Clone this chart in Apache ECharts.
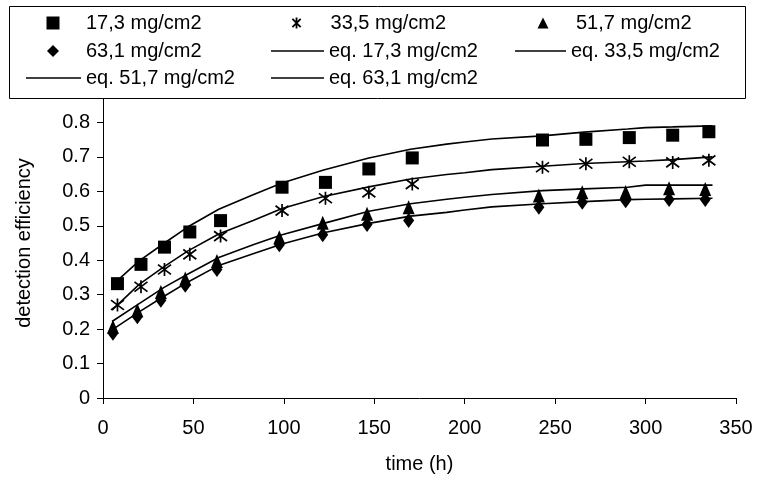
<!DOCTYPE html>
<html>
<head>
<meta charset="utf-8">
<script src="https://cdn.jsdelivr.net/npm/echarts@6/dist/echarts.min.js"></script>
<style>
  html, body { margin: 0; padding: 0; background: #fff; }
  #chart { width: 759px; height: 479px; }
</style>
</head>
<body>
<div id="chart"></div>
<script>
// measured times (h)
const timeA = [8, 21, 34, 48, 65, 99, 123, 147, 171, 243, 267, 291, 315, 335]
const timeB = [5.5, 19, 32, 45.5, 63, 97.5, 121.5, 146, 169, 241, 265, 289, 313, 333]

// measured detection efficiency
const eff173 = [0.332, 0.388, 0.438, 0.482, 0.515, 0.612, 0.626, 0.665, 0.697, 0.749, 0.751, 0.756, 0.763, 0.773]
const eff335 = [0.270, 0.323, 0.373, 0.417, 0.470, 0.544, 0.580, 0.597, 0.621, 0.670, 0.680, 0.686, 0.684, 0.690]
const eff517 = [0.207, 0.255, 0.308, 0.347, 0.398, 0.467, 0.509, 0.535, 0.554, 0.588, 0.597, 0.598, 0.609, 0.607]
const eff631 = [0.188, 0.236, 0.284, 0.327, 0.373, 0.445, 0.474, 0.504, 0.515, 0.554, 0.568, 0.573, 0.576, 0.576]

// fitted curves (eq.)
const fitTime = [5, 20, 34, 47, 64, 83, 99, 122, 147, 170, 190, 200, 215, 243, 266, 290, 300, 315, 337]
const fit173 = [0.327, 0.398, 0.450, 0.497, 0.548, 0.590, 0.624, 0.662, 0.697, 0.722, 0.737, 0.743, 0.752, 0.761, 0.772, 0.781, 0.785, 0.787, 0.790]
const fit335 = [0.255, 0.330, 0.382, 0.427, 0.476, 0.515, 0.550, 0.585, 0.613, 0.636, 0.649, 0.654, 0.663, 0.673, 0.681, 0.686, 0.688, 0.692, 0.700]
const fit517 = [0.222, 0.274, 0.322, 0.360, 0.408, 0.445, 0.474, 0.507, 0.542, 0.564, 0.577, 0.583, 0.591, 0.602, 0.607, 0.612, 0.618, 0.618, 0.618]
const fit631 = [0.198, 0.250, 0.296, 0.337, 0.385, 0.419, 0.447, 0.480, 0.507, 0.528, 0.539, 0.546, 0.555, 0.564, 0.570, 0.576, 0.577, 0.578, 0.580]

const xTicks = [0, 50, 100, 150, 200, 250, 300, 350]

const FONT = '"Liberation Sans", Arial, sans-serif'
const FS = 20
const ASTERISK = 'path://M6,0 L6,12 M1.5,1.5 L10.5,10.5 M1.5,10.5 L10.5,1.5'

const zip = (xs, ys) => xs.map((x, i) => [x, ys[i]])

const chart = echarts.init(document.getElementById('chart'))

// symbol legend: square icon of size s centred on cx, label starting at tx
function symLegend(name, cx, tx, top, s, extra) {
  const left = cx - s / 2
  return Object.assign({
    data: [name], left, top, padding: 0, itemWidth: s, itemHeight: s, z: 20,
    textStyle: { fontFamily: FONT, fontSize: FS, color: '#000', padding: [0, 0, 0, tx - (left + s + 5)] },
    selectedMode: false,
  }, extra || {})
}

function lineLegend(name, left, top, w) {
  return {
    data: [{ name, icon: 'rect' }], left, top, padding: 0, itemWidth: w, itemHeight: 1.5,
    symbolKeepAspect: false, z: 20,
    itemStyle: { color: '#000' },
    textStyle: { fontFamily: FONT, fontSize: FS, color: '#000' },
    selectedMode: false,
  }
}

chart.setOption({
  animation: false,
  backgroundColor: '#fff',
  textStyle: { fontFamily: FONT },
  graphic: [{
    type: 'rect', z: 10,
    shape: { x: 9.5, y: 6.5, width: 736, height: 92 },
    style: { fill: '#fff', stroke: '#000', lineWidth: 1 },
  }],
  legend: [
    symLegend('17,3 mg/cm2', 53, 86, 13, 13),
    symLegend('33,5 mg/cm2', 297, 331, 13, 11, { itemStyle: { borderWidth: 1.8, borderColor: '#000', color: 'transparent' } }),
    symLegend('51,7 mg/cm2', 543, 576, 13, 11),
    symLegend('63,1 mg/cm2', 53, 86, 41, 12),
    lineLegend('eq. 17,3 mg/cm2', 271, 41, 53),
    lineLegend('eq. 33,5 mg/cm2', 515, 41, 51),
    lineLegend('eq. 51,7 mg/cm2', 26, 68, 55),
    lineLegend('eq. 63,1 mg/cm2', 271, 68, 53),
  ],
  grid: { left: 103, right: 23, top: 88, bottom: 79 },
  xAxis: {
    type: 'value', min: 0, max: 350, interval: 50,
    name: 'time (h)', nameLocation: 'middle', nameGap: 56,
    nameTextStyle: { fontFamily: FONT, fontSize: FS, color: '#000' },
    axisLine: { lineStyle: { color: '#000', width: 1 } },
    axisTick: { show: true, length: 6, lineStyle: { color: '#000' } },
    axisLabel: {
      fontFamily: FONT, fontSize: FS, color: '#000', margin: 20,
      formatter: (v) => (xTicks.includes(v) ? String(v) : ''),
    },
    splitLine: { show: false },
  },
  yAxis: {
    type: 'value', min: 0, max: 0.9, interval: 0.1,
    name: 'detection efficiency', nameLocation: 'middle', nameGap: 69,
    nameTextStyle: { fontFamily: FONT, fontSize: FS, color: '#000' },
    axisLine: { show: true, lineStyle: { color: '#000', width: 1 } },
    axisTick: { show: true, length: 6, lineStyle: { color: '#000' } },
    axisLabel: {
      fontFamily: FONT, fontSize: FS, color: '#000', margin: 13,
      formatter: (v) => (v === 0 ? '0' : v.toFixed(1)),
    },
    splitLine: { show: false },
  },
  series: [
    { name: 'eq. 17,3 mg/cm2', type: 'line', data: zip(fitTime, fit173), symbol: 'none', lineStyle: { color: '#000', width: 1.6 }, itemStyle: { color: '#000' } },
    { name: 'eq. 33,5 mg/cm2', type: 'line', data: zip(fitTime, fit335), symbol: 'none', lineStyle: { color: '#000', width: 1.6 }, itemStyle: { color: '#000' } },
    { name: 'eq. 51,7 mg/cm2', type: 'line', data: zip(fitTime, fit517), symbol: 'none', lineStyle: { color: '#000', width: 1.6 }, itemStyle: { color: '#000' } },
    { name: 'eq. 63,1 mg/cm2', type: 'line', data: zip(fitTime, fit631), symbol: 'none', lineStyle: { color: '#000', width: 1.6 }, itemStyle: { color: '#000' } },
    { name: '17,3 mg/cm2', type: 'scatter', data: zip(timeA, eff173), symbol: 'rect', symbolSize: 13, itemStyle: { color: '#000', opacity: 1 }, z: 3 },
    { name: '33,5 mg/cm2', type: 'scatter', data: zip(timeA, eff335), symbol: ASTERISK, symbolSize: 13,
      itemStyle: { color: 'transparent', borderColor: '#000', borderWidth: 1.7, opacity: 1 }, z: 3 },
    { name: '51,7 mg/cm2', type: 'scatter', data: zip(timeB, eff517), symbol: 'triangle', symbolSize: [12, 14], itemStyle: { color: '#000', opacity: 1 }, z: 3 },
    { name: '63,1 mg/cm2', type: 'scatter', data: zip(timeB, eff631), symbol: 'diamond', symbolSize: [11, 15], itemStyle: { color: '#000', opacity: 1 }, z: 3 },
  ],
})
</script>
</body>
</html>
